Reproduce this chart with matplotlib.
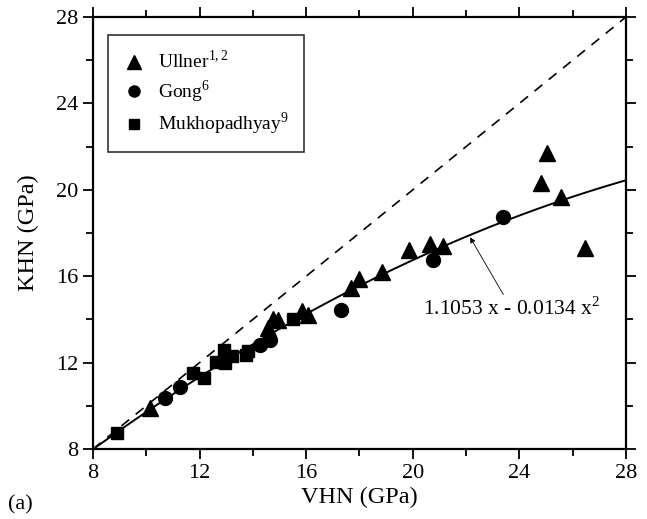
import numpy as np
import matplotlib
matplotlib.use("Agg")
import matplotlib.pyplot as plt
from matplotlib.ticker import MultipleLocator

plt.rcParams['font.family'] = ['Liberation Serif', 'DejaVu Serif']
plt.rcParams['mathtext.fontset'] = 'custom'
plt.rcParams['mathtext.rm'] = 'Liberation Serif'

# Ullner
ullner_vhn = [10.15, 14.55, 14.75, 14.95, 15.85, 16.05, 17.7, 18.0, 18.85,
              19.85, 20.65, 21.15, 24.8, 25.05, 25.55, 26.45]
ullner_khn = [9.9, 13.6, 14.0, 13.95, 14.4, 14.2, 15.45, 15.85, 16.2,
              17.2, 17.5, 17.4, 20.3, 21.7, 19.65, 17.3]
# Gong
gong_vhn = [10.7, 11.25, 14.25, 14.65, 17.3, 20.75, 23.4]
gong_khn = [10.35, 10.85, 12.8, 13.05, 14.45, 16.75, 18.75]
# Mukhopadhyay
muk_vhn = [8.9, 11.75, 12.15, 12.6, 12.9, 12.95, 13.2, 13.75, 13.8, 15.5]
muk_khn = [8.75, 11.5, 11.3, 12.05, 12.6, 12.0, 12.3, 12.35, 12.55, 14.0]

fit_a, fit_b = 1.1053, -0.0134

fig = plt.figure(figsize=(6.47, 5.19), dpi=100)
ax = fig.add_axes([0.1437, 0.1349, 0.8238, 0.8323])

x = np.linspace(8, 28, 200)
ax.plot(x, x, color='black', linestyle=(0, (6, 5)), linewidth=1.2)
ax.plot(x, fit_a * x + fit_b * x**2, color='black', linewidth=1.4)

ax.plot(ullner_vhn, ullner_khn, '^', color='black', markersize=12,
        linestyle='none', label='Ullner$^{1,2}$')
ax.plot(gong_vhn, gong_khn, 'o', color='black', markersize=10,
        linestyle='none', label='Gong$^{6}$')
ax.plot(muk_vhn, muk_khn, 's', color='black', markersize=9,
        linestyle='none', label='Mukhopadhyay$^{9}$')

ann = ax.annotate('1.1053 x - 0.0134 x$^{2}$', xy=(22.15, 17.8), xytext=(20.38, 14.5),
                  fontsize=15.5, va='center', ha='left',
                  arrowprops=dict(arrowstyle='-|>', color='black', lw=0.6,
                                  shrinkA=0, shrinkB=0, mutation_scale=8))
# arrow tail sits just above the text, not at its corner
ann.arrow_patch.set_positions((23.65, 15.05), (22.15, 17.8))

ax.set_xlim(8, 28)
ax.set_ylim(8, 28)
ax.xaxis.set_major_locator(MultipleLocator(4))
ax.yaxis.set_major_locator(MultipleLocator(4))
ax.xaxis.set_minor_locator(MultipleLocator(2))
ax.yaxis.set_minor_locator(MultipleLocator(2))
ax.tick_params(which='both', direction='out', top=True, right=True, width=1.3,
               labelsize=16)
ax.tick_params(which='major', length=7)
ax.tick_params(which='minor', length=5)
for s in ax.spines.values():
    s.set_linewidth(1.6)

ax.set_xlabel('VHN (GPa)', fontsize=17.5, labelpad=3)
ax.set_ylabel('KHN (GPa)', fontsize=17.5, labelpad=12)
fig.text(0.012, 0.018, '(a)', fontsize=16)

leg = ax.legend(loc='upper left', bbox_to_anchor=(0.028, 0.958), fontsize=14,
                frameon=True, fancybox=False, edgecolor='black',
                handletextpad=0.65, borderpad=0.75, labelspacing=0.3,
                handlelength=1.2, markerscale=0.8, borderaxespad=0)
leg.get_frame().set_linewidth(1.2)

fig.savefig('out.png', dpi=100)
